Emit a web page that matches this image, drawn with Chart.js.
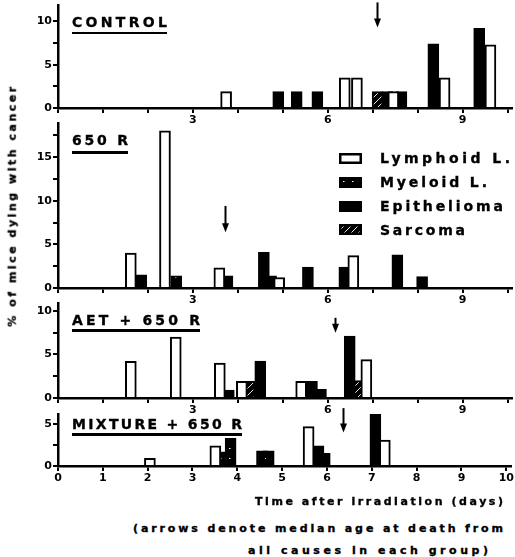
<!DOCTYPE html>
<html><head><meta charset="utf-8">
<script src="https://cdn.jsdelivr.net/npm/chart.js@4.4.1/dist/chart.umd.min.js"></script>
<style>
html,body{margin:0;padding:0;background:#fff;}
#wrap{position:relative;width:515px;height:557px;overflow:hidden;background:#fff;font-family:'DejaVu Sans',sans-serif;font-weight:bold;color:#000;}
canvas.panel{position:absolute;left:0;}
.txt{position:absolute;white-space:nowrap;font-weight:bold;-webkit-text-stroke:0.35px #000;}
.uline{position:absolute;height:2.5px;background:#000;}
.lgbox{position:absolute;}
</style></head>
<body><div id="wrap">
<canvas class="panel" id="p1"></canvas>
<canvas class="panel" id="p2"></canvas>
<canvas class="panel" id="p3"></canvas>
<canvas class="panel" id="p4"></canvas>
</div>
<script>
// ---------------- DATA ----------------
const seriesNames = ['Lymphoid L.', 'Myeloid L.', 'Epithelioma', 'Sarcoma'];
const panelTitles = ['CONTROL', '650 R', 'AET + 650 R', 'MIXTURE + 650 R'];

// [day, % of mice]
const controlLymphoid    = [[3.74,1.9],[6.38,3.5],[6.65,3.5],[7.46,1.9],[8.60,3.5],[9.62,7.3]];
const controlMyeloid     = [];
const controlEpithelioma = [[4.90,1.9],[5.31,1.9],[5.77,1.9],[7.33,1.9],[7.64,1.9],[8.35,7.4],[9.37,9.2]];
const controlSarcoma     = [[7.11,1.9]];

const r650Lymphoid    = [[1.62,4.0],[2.38,18.0],[3.59,2.3],[4.92,1.2],[6.57,3.7]];
const r650Myeloid     = [[2.63,1.4]];
const r650Epithelioma = [[1.85,1.5],[3.77,1.4],[4.58,4.1],[4.74,1.4],[5.56,2.4],[6.37,2.4],[7.55,3.8],[8.10,1.3]];
const r650Sarcoma     = [];

const aetLymphoid    = [[1.62,4.2],[2.62,7.0],[3.60,4.0],[4.09,1.9],[5.41,1.9],[6.86,4.4]];
const aetMyeloid     = [];
const aetEpithelioma = [[3.80,0.9],[4.50,4.25],[5.65,1.9],[5.85,1.0],[6.49,7.1]];
const aetSarcoma     = [[4.26,1.9],[6.69,2.0]];

const mixLymphoid    = [[2.05,0.9],[3.51,2.4],[5.59,4.7],[7.29,3.1]];
const mixMyeloid     = [[3.68,1.7],[3.85,3.3],[4.55,1.8]];
const mixEpithelioma = [[4.70,1.8],[5.81,2.4],[5.95,1.5],[7.08,6.2]];
const mixSarcoma     = [];

const yMaxima     = [11.9, 18.9, 10.9, 6.2];
const arrowDays   = [7.09, 3.71, 6.16, 6.35];
const arrowTops   = [12.2, 9.4, 9.2, 6.9];
const arrowBottoms= [9.3, 6.4, 7.5, 4.0];

const upperXTickLabels = [3, 6, 9];
const lowerXTickLabels = [0,1,2,3,4,5,6,7,8,9,10];
const yLabelEvery = 5;
const yTickStep = 2.5;

const yAxisTitle = '% of mice dying with cancer';
const xAxisTitleLines = ['Time after irradiation (days)', '(arrows denote median age at death from', 'all causes in each group)'];

// ---------------- LAYOUT ----------------
const FONT = "'DejaVu Sans', sans-serif";
const PADT = 10, XH = 22;
const panelLayout = [
  {id:'p1', axisTop:5,   zeroY:108},
  {id:'p2', axisTop:123, zeroY:288},
  {id:'p3', axisTop:303, zeroY:398},
  {id:'p4', axisTop:414, zeroY:466},
];

// ---------------- PATTERNS ----------------
function sarcomaPattern(){
  const c = document.createElement('canvas'); c.width = 7; c.height = 7;
  const g = c.getContext('2d');
  g.fillStyle = '#000'; g.fillRect(0,0,7,7);
  g.strokeStyle = '#fff'; g.lineWidth = 0.9;
  g.beginPath(); g.moveTo(0,7); g.lineTo(7,0);
  g.moveTo(-1,1); g.lineTo(1,-1); g.moveTo(6,8); g.lineTo(8,6); g.stroke();
  return g.createPattern(c,'repeat');
}
function myeloidPattern(){
  const c = document.createElement('canvas'); c.width = 9; c.height = 10;
  const g = c.getContext('2d');
  g.fillStyle = '#000'; g.fillRect(0,0,9,10);
  g.fillStyle = '#fff'; g.fillRect(4,4,1.5,1);
  return g.createPattern(c,'repeat');
}
const patS = sarcomaPattern(), patM = myeloidPattern();
const fills = ['#fff', patM, '#000', patS];

// ---------------- ARROW PLUGIN ----------------
const arrowPlugin = {
  id: 'medianArrow',
  afterDatasetsDraw(chart, args, o){
    const {ctx, scales:{x, y}} = chart;
    const px = Math.round(x.getPixelForValue(o.day)) + 0.5;
    const y0 = y.getPixelForValue(o.top), y1 = y.getPixelForValue(o.bottom);
    ctx.save();
    ctx.strokeStyle = '#000'; ctx.fillStyle = '#000'; ctx.lineWidth = 2;
    ctx.beginPath(); ctx.moveTo(px, y0); ctx.lineTo(px, y1 - 6); ctx.stroke();
    ctx.beginPath(); ctx.moveTo(px - 3.5, y1 - 9); ctx.lineTo(px + 3.5, y1 - 9); ctx.lineTo(px, y1); ctx.closePath(); ctx.fill();
    ctx.restore();
  }
};

const toXY = arr => arr.map(p => ({x: p[0], y: p[1]}));

function makePanel(i, series, xLabels){
  const L = panelLayout[i];
  const cv = document.getElementById(L.id);
  const H = L.zeroY - L.axisTop;
  cv.width = 515; cv.height = PADT + H + XH;
  cv.style.width = '515px'; cv.style.height = cv.height + 'px';
  cv.style.top = (L.axisTop - PADT) + 'px';
  const tickFont = {family: FONT, weight: 'bold', size: 11};
  new Chart(cv, {
    type: 'bar',
    data: {datasets: series.map((s, k) => ({
      label: seriesNames[k], data: toXY(s), backgroundColor: fills[k],
      borderColor: '#000', borderWidth: 2, borderSkipped: 'start',
      grouped: false, barThickness: 11
    }))},
    options: {
      responsive: false, animation: false, devicePixelRatio: 1,
      layout: {padding: {left: 0, right: 3, top: PADT, bottom: 0}},
      scales: {
        x: {type: 'linear', min: 0, max: 10.1, offset: false,
          grid: {drawOnChartArea: false, drawTicks: true, tickLength: 5, color: '#000', lineWidth: 2, offset: false},
          border: {display: true, color: '#000', width: 2.5},
          ticks: {stepSize: 1, includeBounds: false, autoSkip: false, maxRotation: 0, padding: 1, color: '#000', font: tickFont,
            callback: v => xLabels.includes(v) ? String(v) : ''},
          afterFit: s => { s.height = XH; }
        },
        y: {min: 0, max: yMaxima[i],
          grid: {drawOnChartArea: false, drawTicks: true, tickLength: 5, color: '#000', lineWidth: 2},
          border: {display: true, color: '#000', width: 2.5},
          ticks: {stepSize: yTickStep, includeBounds: false, padding: 1, color: '#000', font: tickFont,
            callback: v => (Math.abs(v % yLabelEvery) < 1e-6) ? String(v) : ''},
          afterFit: s => { s.width = 58; }
        }
      },
      plugins: {legend: {display: false}, tooltip: {enabled: false},
        medianArrow: {day: arrowDays[i], top: arrowTops[i], bottom: arrowBottoms[i]}}
    },
    plugins: [arrowPlugin]
  });
}

makePanel(0, [controlLymphoid, controlMyeloid, controlEpithelioma, controlSarcoma], upperXTickLabels);
makePanel(1, [r650Lymphoid, r650Myeloid, r650Epithelioma, r650Sarcoma], upperXTickLabels);
makePanel(2, [aetLymphoid, aetMyeloid, aetEpithelioma, aetSarcoma], upperXTickLabels);
makePanel(3, [mixLymphoid, mixMyeloid, mixEpithelioma, mixSarcoma], lowerXTickLabels);

// ---------------- TEXT ----------------
const wrap = document.getElementById('wrap');
const mctx = document.createElement('canvas').getContext('2d');
function addText(str, fs, left, capCY, targetW, rotate){
  mctx.font = 'bold ' + fs + 'px ' + FONT;
  const w = mctx.measureText(str).width;
  const sp = (targetW - w) / (str.length - 1);
  const el = document.createElement('div');
  el.className = 'txt';
  el.textContent = str;
  el.style.fontSize = fs + 'px';
  el.style.lineHeight = fs + 'px';
  el.style.fontFamily = FONT;
  el.style.letterSpacing = sp + 'px';
  wrap.appendChild(el);
  if (rotate){
    const full = targetW + sp;
    el.style.width = full + 'px';
    el.style.left = (left - full / 2) + 'px';
    el.style.top = (capCY - fs / 2) + 'px';
    el.style.transform = 'rotate(-90deg)';
    el.style.transformOrigin = '50% 50%';
  } else {
    el.style.left = left + 'px';
    el.style.top = (capCY - 0.4815 * fs) + 'px';
  }
  return el;
}
function addLine(left, top, width){
  const d = document.createElement('div');
  d.className = 'uline';
  d.style.left = left + 'px'; d.style.top = top + 'px'; d.style.width = width + 'px';
  wrap.appendChild(d);
}
// panel titles
const titleGeom = [{cy:21.5, w:95, ul:31.5},{cy:139.5, w:56, ul:151},{cy:319.5, w:128, ul:329},{cy:423.5, w:170, ul:433}];
panelTitles.forEach((t, i) => { addText(t, 14, 72, titleGeom[i].cy, titleGeom[i].w); addLine(72, titleGeom[i].ul, titleGeom[i].w); });

// legend
const legendGeom = [{cy:158, w:130},{cy:182, w:107},{cy:206, w:123},{cy:229.5, w:85}];
seriesNames.forEach((n, k) => {
  addText(n, 14, 380, legendGeom[k].cy, legendGeom[k].w);
  const b = document.createElement('canvas');
  b.width = 23; b.height = 11; b.className = 'lgbox';
  b.style.left = '339px'; b.style.top = (legendGeom[k].cy - 5.5) + 'px';
  const g = b.getContext('2d');
  g.fillStyle = fills[k]; g.fillRect(0, 0, 23, 11);
  g.strokeStyle = '#000'; g.lineWidth = 2.5; g.strokeRect(1.25, 1.25, 20.5, 8.5);
  wrap.appendChild(b);
});

// axis titles
addText(yAxisTitle, 11, 12, 205, 240, true);
const xtGeom = [{l:255, cy:501, w:248},{l:133, cy:528, w:370},{l:248, cy:550, w:240}];
xAxisTitleLines.forEach((t, i) => addText(t, 11, xtGeom[i].l, xtGeom[i].cy, xtGeom[i].w));
</script>
</body></html>
